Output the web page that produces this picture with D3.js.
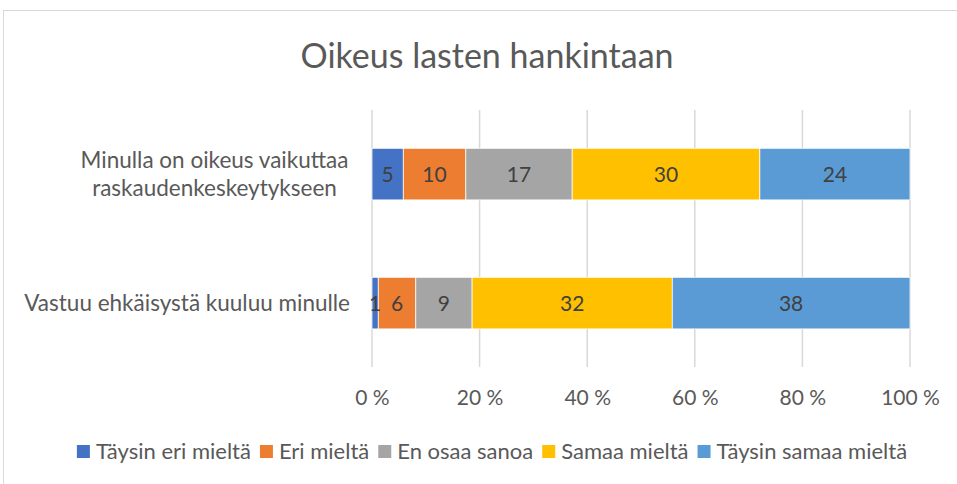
<!DOCTYPE html>
<html><head><meta charset="utf-8">
<script src="https://cdn.jsdelivr.net/npm/d3@7"></script>
<style>body{margin:0;background:#fff}svg{display:block}text{font-family:Lato,"Open Sans",sans-serif}</style>
</head><body><svg id="c" width="957" height="484"></svg>
<script>
const title = "Oikeus lasten hankintaan";
const categories = ["Minulla on oikeus vaikuttaa raskaudenkeskeytykseen", "Vastuu ehkäisystä kuuluu minulle"];
const categoryLines = [["Minulla on oikeus vaikuttaa", "raskaudenkeskeytykseen"], ["Vastuu ehkäisystä kuuluu minulle"]];
const seriesNames = ["Täysin eri mieltä", "Eri mieltä", "En osaa sanoa", "Samaa mieltä", "Täysin samaa mieltä"];
const seriesColors = ["#4472C4", "#ED7D31", "#A5A5A5", "#FFC000", "#5B9BD5"];
const valuesTaysinEri = [5, 1];
const valuesEri = [10, 6];
const valuesEnOsaa = [17, 9];
const valuesSamaa = [30, 32];
const valuesTaysinSamaa = [24, 38];
const tickValues = [0, 0.2, 0.4, 0.6, 0.8, 1];
const tickLabels = ["0 %", "20 %", "40 %", "60 %", "80 %", "100 %"];

const series = [valuesTaysinEri, valuesEri, valuesEnOsaa, valuesSamaa, valuesTaysinSamaa];
const svg = d3.select("#c");
const textColor = "#595959";

svg.append("rect").attr("x", 3.5).attr("y", 10.5).attr("width", 960).attr("height", 480)
  .attr("fill", "none").attr("stroke", "#D9D9D9").attr("stroke-width", 1);

svg.append("text").attr("x", 487).attr("y", 68).attr("text-anchor", "middle")
  .attr("font-size", 34).attr("fill", textColor).text(title);

const x = d3.scaleLinear().domain([0, 1]).range([372, 910]);
const y = d3.scaleBand().domain(categories).range([109.6, 367.6]).paddingInner(0.6).paddingOuter(0.3);

// gridlines
svg.append("g").selectAll("line").data(tickValues).join("line")
  .attr("x1", d => x(d)).attr("x2", d => x(d)).attr("y1", 110).attr("y2", 367)
  .attr("stroke", "#D9D9D9").attr("stroke-width", 1.5);

// stacked data
const rows = categories.map((c, i) => {
  const vals = series.map(s => s[i]);
  const tot = d3.sum(vals);
  let acc = 0;
  return vals.map((v, j) => { const r = {cat: c, j, v, x0: acc / tot, x1: (acc + v) / tot}; acc += v; return r; });
}).flat();

svg.append("g").selectAll("rect").data(rows).join("rect")
  .attr("x", d => x(d.x0)).attr("width", d => x(d.x1) - x(d.x0))
  .attr("y", d => y(d.cat)).attr("height", y.bandwidth())
  .attr("fill", d => seriesColors[d.j]).attr("stroke", "#fff").attr("stroke-width", 0.75);

svg.append("g").selectAll("text").data(rows).join("text")
  .attr("x", d => (x(d.x0) + x(d.x1)) / 2).attr("y", d => y(d.cat) + y.bandwidth() / 2 + 8)
  .attr("text-anchor", "middle").attr("font-size", 21).attr("fill", "#404040").text(d => d.v);

// axis
const ax = d3.axisBottom(x).tickValues(tickValues).tickFormat((d, i) => tickLabels[i]).tickSize(0);
const g = svg.append("g").attr("transform", "translate(0,405)").call(ax);
g.select(".domain").remove();
g.selectAll("text").attr("font-size", 21).attr("fill", textColor).attr("font-family", "Lato,sans-serif").attr("dy", "0").attr("y", 0);

// category labels
categories.forEach((c, i) => {
  const lines = categoryLines[i];
  const cy = y(c) + y.bandwidth() / 2;
  const lh = 28;
  const cx = 214.5;
  lines.forEach((l, k) => {
    const t = svg.append("text").attr("font-size", 22.5).attr("fill", textColor)
      .attr("y", cy + (k - (lines.length - 1) / 2) * lh + 8).text(l);
    if (lines.length > 1) t.attr("x", cx).attr("text-anchor", "middle");
    else t.attr("x", 350).attr("text-anchor", "end");
  });
});

// legend: sequential layout fitted into the reference span
const legL = 66, legR = 918, mk = 13, mkGap = 6, itemGap = 9;
const lg = svg.append("g");
let fs = 22;
const items = seriesNames.map((n, i) => {
  const t = lg.append("text").attr("y", 459).attr("font-size", fs).attr("fill", textColor).text(n);
  return {t, w: t.node().getComputedTextLength(), i};
});
const textTotal = d3.sum(items, d => d.w);
const avail = (legR - legL) - items.length * (mk + mkGap) - (items.length - 1) * itemGap;
const k = Math.min(1, avail / textTotal);
let cxl = legL + ((legR - legL) - (items.length * (mk + mkGap) + (items.length - 1) * itemGap + textTotal * k)) / 2;
items.forEach(d => {
  lg.append("rect").attr("x", cxl).attr("y", 445).attr("width", mk).attr("height", mk).attr("fill", seriesColors[d.i]);
  d.t.attr("x", cxl + mk + mkGap).attr("font-size", fs * k);
  cxl += mk + mkGap + d.w * k + itemGap;
});
</script></body></html>
